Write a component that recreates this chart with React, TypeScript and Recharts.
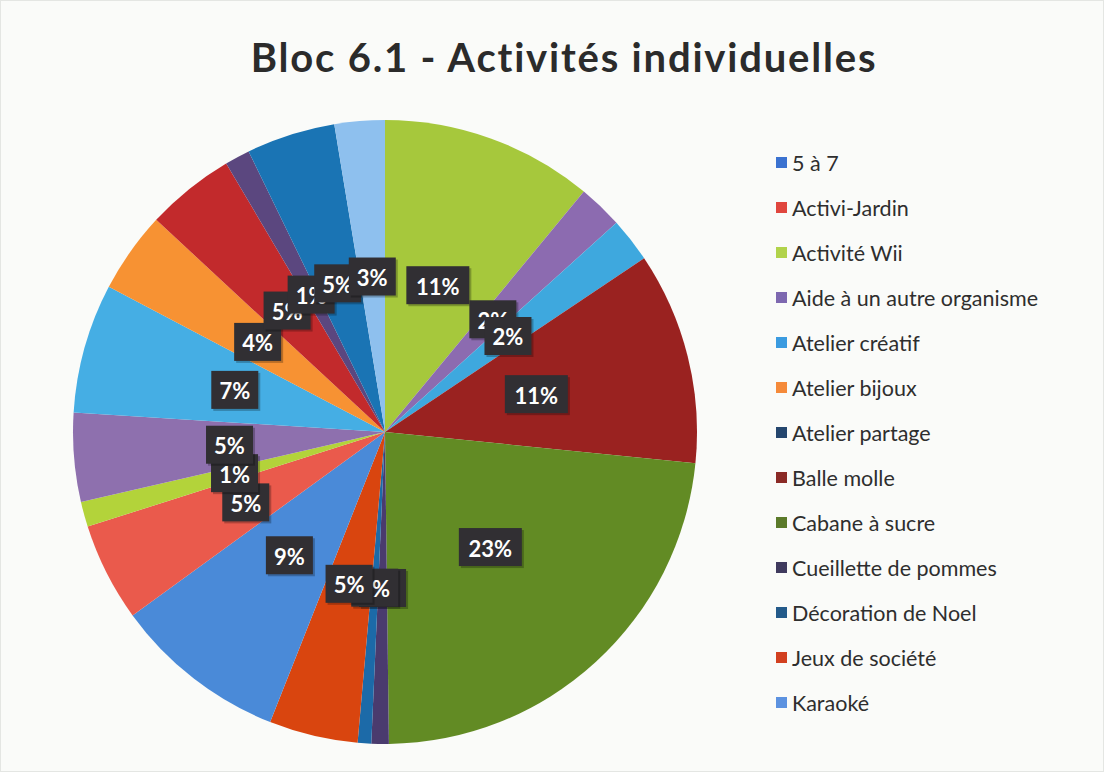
import React from 'react';
import { PieChart, Pie, Cell, Legend } from 'recharts';

// Slices in clockwise order starting at 12 o'clock
const sliceNames = [
  'Activité Wii',
  'Aide à un autre organisme',
  'Atelier créatif',
  'Balle molle',
  'Cabane à sucre',
  'Cueillette de pommes',
  'Décoration de Noel',
  'Jeux de société',
  '5 à 7',
  'Activi-Jardin',
  'Activité Wii',
  'Aide à un autre organisme',
  'Atelier créatif',
  'Atelier bijoux',
  'Balle molle',
  'Cueillette de pommes',
  'Décoration de Noel',
  'Karaoké',
];
const sliceValues = [11, 2.3, 2.3, 11, 23.2, 0.9, 0.7, 4.6, 9.0, 5.1, 1.3, 4.6, 6.7, 4.2, 4.6, 1.3, 4.6, 2.6];
const sliceColors = [
  '#a6c83c', '#8c6bb0', '#3ea8de', '#9a2220', '#628b24', '#4a3b6e', '#1c6aa8', '#d9450f',
  '#4a8ad8', '#ea5a4c', '#b3d33a', '#8e70ae', '#45aee4', '#f79233', '#c22a2c', '#5b477f', '#1a74b4', '#8ec0ee',
];

const legendNames = [
  '5 à 7',
  'Activi-Jardin',
  'Activité Wii',
  'Aide à un autre organisme',
  'Atelier créatif',
  'Atelier bijoux',
  'Atelier partage',
  'Balle molle',
  'Cabane à sucre',
  'Cueillette de pommes',
  'Décoration de Noel',
  'Jeux de société',
  'Karaoké',
];
const legendColors = [
  '#3a72d0', '#e0463e', '#b1d34b', '#7d68b0', '#3a9be0', '#f58a3a', '#24466e',
  '#8a2a26', '#5b7a2a', '#3f3a5e', '#235a8a', '#d24020', '#5c92e0',
];

const title = 'Bloc 6.1 - Activités individuelles';

const data = sliceNames.map((name, i) => ({ name, value: sliceValues[i] }));

const FONT = 'Lato, "Open Sans", sans-serif';
const RADIAN = Math.PI / 180;

const renderLabel = (props: any) => {
  const { cx, cy, midAngle, outerRadius, percent } = props;
  const r = outerRadius * 0.5;
  const x = cx + r * Math.cos(-midAngle * RADIAN);
  const y = cy + r * Math.sin(-midAngle * RADIAN);
  const txt = `${Math.round(percent * 100)}%`;
  const w = txt.length === 2 ? 47 : 63;
  const h = 38;
  return (
    <g>
      <rect x={x - w / 2 + 2} y={y - h / 2 + 2} width={w} height={h} fill="rgba(0,0,0,0.25)" />
      <rect x={x - w / 2} y={y - h / 2} width={w} height={h} fill="#312f33" />
      <text
        x={x}
        y={y + 1}
        fill="#ffffff"
        textAnchor="middle"
        dominantBaseline="central"
        fontFamily={FONT}
        fontWeight={700}
        fontSize={22}
      >
        {txt}
      </text>
    </g>
  );
};

const renderLegend = () => (
  <div style={{ fontFamily: FONT }}>
    {legendNames.map((n, i) => (
      <div key={n} style={{ display: 'flex', alignItems: 'center', height: 45 }}>
        <span
          style={{
            display: 'inline-block',
            width: 11,
            height: 11,
            background: legendColors[i],
            marginRight: 5,
          }}
        />
        <span style={{ fontSize: 21.5, color: '#2e2e2e', whiteSpace: 'nowrap' }}>{n}</span>
      </div>
    ))}
  </div>
);

export default function App() {
  return (
    <div
      style={{
        position: 'fixed',
        left: 0,
        top: 0,
        width: 1104,
        height: 772,
        background: '#fafbf9',
        boxSizing: 'border-box',
        border: '1px solid #e4e6e3',
      }}
    >
      <div
        style={{
          position: 'absolute',
          left: 0,
          top: 31,
          width: 1126,
          textAlign: 'center',
          fontFamily: FONT,
          fontWeight: 700,
          fontSize: 40,
          letterSpacing: 1.8,
          color: '#2b2b2b',
          lineHeight: '50px',
        }}
      >
        {title}
      </div>
      <div style={{ position: 'absolute', left: 0, top: 0 }}>
        <PieChart width={1104} height={772} margin={{ top: 0, right: 0, bottom: 0, left: 0 }}>
          <Pie
            data={data}
            dataKey="value"
            nameKey="name"
            cx={384}
            cy={431}
            outerRadius={312}
            startAngle={90}
            endAngle={-270}
            stroke="none"
            label={renderLabel}
            labelLine={false}
            isAnimationActive={false}
          >
            {data.map((d, i) => (
              <Cell key={i} fill={sliceColors[i]} />
            ))}
          </Pie>
          <Legend
            layout="vertical"
            align="right"
            verticalAlign="top"
            content={renderLegend}
            wrapperStyle={{ left: 775, top: 139, width: 320 }}
          />
        </PieChart>
      </div>
    </div>
  );
}
